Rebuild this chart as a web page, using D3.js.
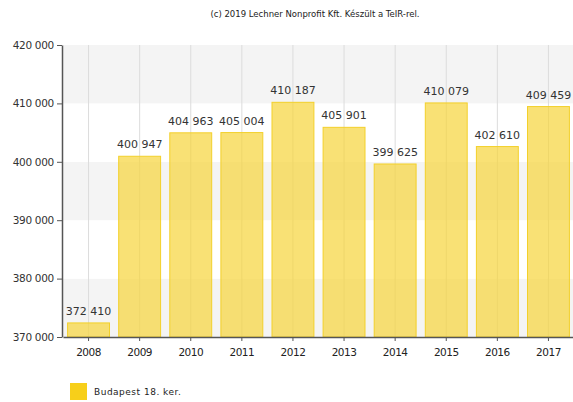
<!DOCTYPE html>
<html>
<head>
<meta charset="utf-8">
<script src="https://cdn.jsdelivr.net/npm/d3@7"></script>
<style>
  html, body { margin: 0; padding: 0; background: #fff; }
  svg { display: block; font-family: "DejaVu Sans", sans-serif; }
</style>
</head>
<body>
<svg id="chart" width="573" height="402"></svg>
<script>
// Population of Budapest District 18 by year
const years = ["2008", "2009", "2010", "2011", "2012", "2013", "2014", "2015", "2016", "2017"];
const population = [372410, 400947, 404963, 405004, 410187, 405901, 399625, 410079, 402610, 409459];
const yTicks = [370000, 380000, 390000, 400000, 410000, 420000];
const seriesName = "Budapest 18. ker.";
const credit = "(c) 2019 Lechner Nonprofit Kft. Készült a TeIR-rel.";

const svg = d3.select("#chart");
const margin = { left: 63, right: -1, top: 45, bottom: 65 };
const W = 573, H = 402;

const x = d3.scaleBand().domain(years)
  .range([margin.left, W - margin.right]).paddingInner(0.18).paddingOuter(0.09);
const y = d3.scaleLinear().domain([370000, 420000]).range([H - margin.bottom, margin.top]);

const fmt = v => d3.format(",")(v).replace(/,/g, " ");

// alternating horizontal bands
for (let i = 0; i < yTicks.length - 1; i++) {
  const lo = yTicks[i], hi = yTicks[i + 1];
  svg.append("rect")
    .attr("x", margin.left).attr("width", W - margin.left)
    .attr("y", y(hi)).attr("height", y(lo) - y(hi))
    .attr("fill", i % 2 === 0 ? "#f4f4f4" : "#ffffff");
}

// vertical gridlines at category centres
svg.append("g").selectAll("line").data(years).join("line")
  .attr("x1", d => x(d) + x.bandwidth() / 2).attr("x2", d => x(d) + x.bandwidth() / 2)
  .attr("y1", y(420000)).attr("y2", y(370000))
  .attr("stroke", "#dcdcdc").attr("stroke-width", 1);

// bars
svg.append("g").selectAll("rect").data(years).join("rect")
  .attr("x", d => x(d)).attr("width", x.bandwidth())
  .attr("y", (d, i) => y(population[i]))
  .attr("height", (d, i) => y(370000) - y(population[i]))
  .attr("fill", "#f7d43a").attr("fill-opacity", 0.7)
  .attr("stroke", "#f3d02a").attr("stroke-width", 1);

// value labels
svg.append("g").selectAll("text").data(years).join("text")
  .attr("x", d => x(d) + x.bandwidth() / 2)
  .attr("y", (d, i) => y(population[i]) - 8)
  .attr("text-anchor", "middle")
  .attr("font-size", 11).attr("fill", "#333")
  .text((d, i) => fmt(population[i]));

// y axis
const yAxis = svg.append("g").attr("transform", `translate(${margin.left - 1},0)`)
  .call(d3.axisLeft(y).tickValues(yTicks).tickFormat(fmt).tickSize(5).tickSizeOuter(0));
yAxis.select(".domain").attr("stroke", "#555").attr("stroke-width", 1.5);
yAxis.selectAll(".tick line").attr("stroke", "#555");
yAxis.selectAll(".tick text").attr("font-size", 10.5).attr("fill", "#333")
  .attr("font-family", "DejaVu Sans, sans-serif").attr("letter-spacing", -0.3);

// x axis
const xAxis = svg.append("g").attr("transform", `translate(0,${H - margin.bottom})`)
  .call(d3.axisBottom(x).tickSize(4).tickSizeOuter(0));
xAxis.select(".domain").attr("stroke", "#555").attr("stroke-width", 1.5);
xAxis.selectAll(".tick line").attr("stroke", "#555");
xAxis.selectAll(".tick text").attr("font-size", 10.5).attr("fill", "#222")
  .attr("dy", "1.1em").attr("font-family", "DejaVu Sans, sans-serif").attr("letter-spacing", -0.5);

// credit line
svg.append("text").attr("x", 315).attr("y", 17).attr("text-anchor", "middle")
  .attr("font-size", 8.5).attr("fill", "#222").text(credit);

// legend
svg.append("rect").attr("x", 70).attr("y", 383).attr("width", 17).attr("height", 17)
  .attr("fill", "#f7cf1a");
svg.append("text").attr("x", 94).attr("y", 395).attr("font-size", 9).attr("fill", "#222")
  .attr("letter-spacing", 0.5).text(seriesName);
</script>
</body>
</html>
